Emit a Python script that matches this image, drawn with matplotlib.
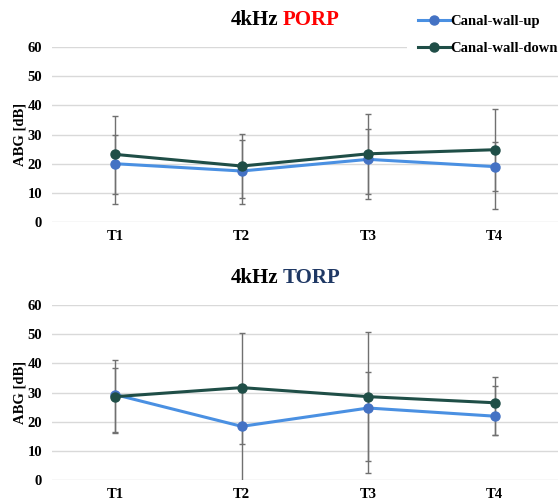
import matplotlib

matplotlib.use("Agg")
import matplotlib.pyplot as plt
import numpy as np

# time points
labels = ["T1", "T2", "T3", "T4"]

# 4kHz PORP
porp_up = [20.0, 17.5, 21.5, 19.0]
porp_up_low = [9.6, 8.2, 9.5, 10.5]
porp_up_high = [29.9, 28.3, 32.0, 27.3]
porp_down = [23.2, 19.2, 23.4, 24.8]
porp_down_low = [6.3, 6.3, 7.9, 4.6]
porp_down_high = [36.5, 30.2, 36.9, 38.8]

# 4kHz TORP
torp_up = [29.3, 18.4, 24.7, 21.9]
torp_up_low = [16.6, -2.0, 2.5, 15.4]
torp_up_high = [41.1, 30.1, 37.1, 32.3]
torp_down = [28.6, 31.7, 28.6, 26.5]
torp_down_low = [16.1, 12.4, 6.4, 15.4]
torp_down_high = [38.4, 50.6, 50.7, 35.3]

yticks = [0, 10, 20, 30, 40, 50, 60]

BLUE_LINE = "#4A90E2"
BLUE_MARK = "#4472C4"
DARK = "#1F4E47"
ERR = "#707070"
SERIF = "Liberation Serif"

plt.rcParams["font.family"] = SERIF
plt.rcParams["font.weight"] = "bold"

fig = plt.figure(figsize=(5.58, 5.04), dpi=100)
ax_top = fig.add_axes([0.093, 0.5595, 0.907, 0.347])
ax_bot = fig.add_axes([0.093, 0.0476, 0.907, 0.347])


def draw_panel(ax, up, up_lo, up_hi, down, down_lo, down_hi):
    x = np.arange(len(labels))
    for vals, lo, hi in [(up, up_lo, up_hi), (down, down_lo, down_hi)]:
        vals = np.array(vals)
        yerr = [vals - np.array(lo), np.array(hi) - vals]
        ax.errorbar(x, vals, yerr=yerr, fmt="none", ecolor=ERR, elinewidth=1,
                    capsize=2.5, capthick=1, zorder=2)
    l1, = ax.plot(x, up, color=BLUE_LINE, lw=2.2, marker="o", ms=6.5,
                  mfc=BLUE_MARK, mec=BLUE_MARK, zorder=3, label="Canal-wall-up")
    l2, = ax.plot(x, down, color=DARK, lw=2.2, marker="o", ms=6.5,
                  mfc=DARK, mec=DARK, zorder=4, label="Canal-wall-down")
    ax.set_xlim(-0.5, len(labels) - 0.5)
    ax.set_ylim(0, 60)
    ax.set_yticks(yticks)
    ax.set_xticks(x)
    ax.set_xticklabels(labels, fontsize=10.5, fontweight="bold")
    ax.tick_params(axis="y", labelsize=10.5, length=0, pad=7)
    ax.tick_params(axis="x", length=0, pad=6)
    ax.grid(axis="y", color="#D9D9D9", lw=1)
    ax.set_axisbelow(True)
    for s in ax.spines.values():
        s.set_visible(False)
    ax.set_ylabel("ABG [dB]", fontsize=10.5, fontweight="bold")
    ax.yaxis.set_label_coords(-0.05, 0.5)
    return l1, l2


h1, h2 = draw_panel(ax_top, porp_up, porp_up_low, porp_up_high,
                    porp_down, porp_down_low, porp_down_high)
draw_panel(ax_bot, torp_up, torp_up_low, torp_up_high,
           torp_down, torp_down_low, torp_down_high)

# two-colour titles
fig.text(231 / 558, 1 - 20 / 504, "4kHz", fontsize=15, fontweight="bold",
         ha="left", va="center", color="black")
fig.text(283 / 558, 1 - 20 / 504, "PORP", fontsize=15, fontweight="bold",
         ha="left", va="center", color="#FF0000")
fig.text(231 / 558, 1 - 278 / 504, "4kHz", fontsize=15, fontweight="bold",
         ha="left", va="center", color="black")
fig.text(283 / 558, 1 - 278 / 504, "TORP", fontsize=15, fontweight="bold",
         ha="left", va="center", color="#1F3864")

leg = fig.legend([h1, h2], ["Canal-wall-up", "Canal-wall-down"],
                 loc="upper right", bbox_to_anchor=(1.026, 1.0),
                 prop={"family": SERIF, "weight": "bold", "size": 10.5},
                 frameon=True, facecolor="white", edgecolor="none",
                 framealpha=1, handlelength=2.2, handletextpad=0.05,
                 labelspacing=0.95, borderpad=0.7, borderaxespad=0.3)

fig.savefig("out.png", dpi=100)
plt.close(fig)
